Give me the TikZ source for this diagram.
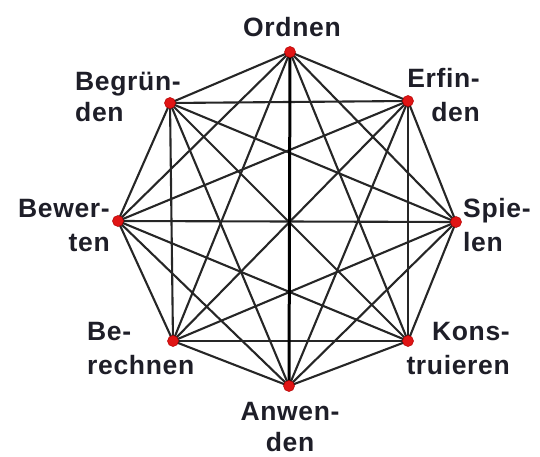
\documentclass[tikz,border=0pt]{standalone}
\usepackage{fontspec}
\setmainfont{Liberation Sans}[BoldFont=Liberation Sans Bold,LetterSpace=2.5]
\definecolor{edgecol}{HTML}{262626}
\definecolor{dotred}{HTML}{E01515}
\definecolor{txtcol}{HTML}{1E1E28}
\begin{document}
\begin{tikzpicture}[x=1pt,y=-1pt,
  vertex/.style={circle,fill=dotred,draw=red!70!black,line width=0.5pt,minimum size=11pt,inner sep=0pt},
  edge/.style={draw=edgecol,line width=2.1pt},
  lbl/.style={inner sep=0pt,text=txtcol,font=\bfseries\fontsize{26.5}{34}\selectfont},
  lbltight/.style={inner sep=0pt,text=txtcol,font=\bfseries\fontsize{26.5}{31}\selectfont}]
\useasboundingbox (0,0) rectangle (540,457);
\coordinate (O) at (290,52);
\coordinate (E) at (408,101);
\coordinate (S) at (456,222);
\coordinate (K) at (408,341);
\coordinate (A) at (289,386);
\coordinate (R) at (173,341);
\coordinate (W) at (118,221);
\coordinate (B) at (170,103);
\foreach \a/\b in {O/E,O/S,O/K,O/R,O/W,O/B,
                   E/S,E/K,E/A,E/R,E/W,E/B,
                   S/K,S/A,S/R,S/W,S/B,
                   K/A,K/R,K/W,K/B,
                   A/R,A/W,A/B,
                   R/W,R/B,
                   W/B}
  \draw[edge] (\a) -- (\b);
\draw[edge,draw=black,line width=3pt] (O) -- (A);
\node[vertex] (nO) at (O) {};
\node[vertex] (nE) at (E) {};
\node[vertex] (nS) at (S) {};
\node[vertex] (nK) at (K) {};
\node[vertex] (nA) at (A) {};
\node[vertex] (nR) at (R) {};
\node[vertex] (nW) at (W) {};
\node[vertex] (nB) at (B) {};
\node[lbl,anchor=base] (tO) at (292,37) {Ordnen};
\node[lbltight,anchor=base west,align=left] (tB) at (75,122) {Begrün-\\den};
\node[lbl,anchor=base east,align=right] (tE) at (480,122) {Erfin-\\den};
\node[lbl,anchor=base east,align=right] (tW) at (110,251) {Bewer-\\ten};
\node[lbl,anchor=base west,align=left] (tS) at (463,251) {Spie-\\len};
\node[lbl,anchor=base west,align=left] (tR) at (87,374) {Be-\\rechnen};
\node[lbltight,anchor=base,align=center] (tA) at (290,451) {Anwen-\\den};
\node[lbl,anchor=base east,align=right] (tK) at (510,374) {Kons-\\truieren};
\end{tikzpicture}
\end{document}
